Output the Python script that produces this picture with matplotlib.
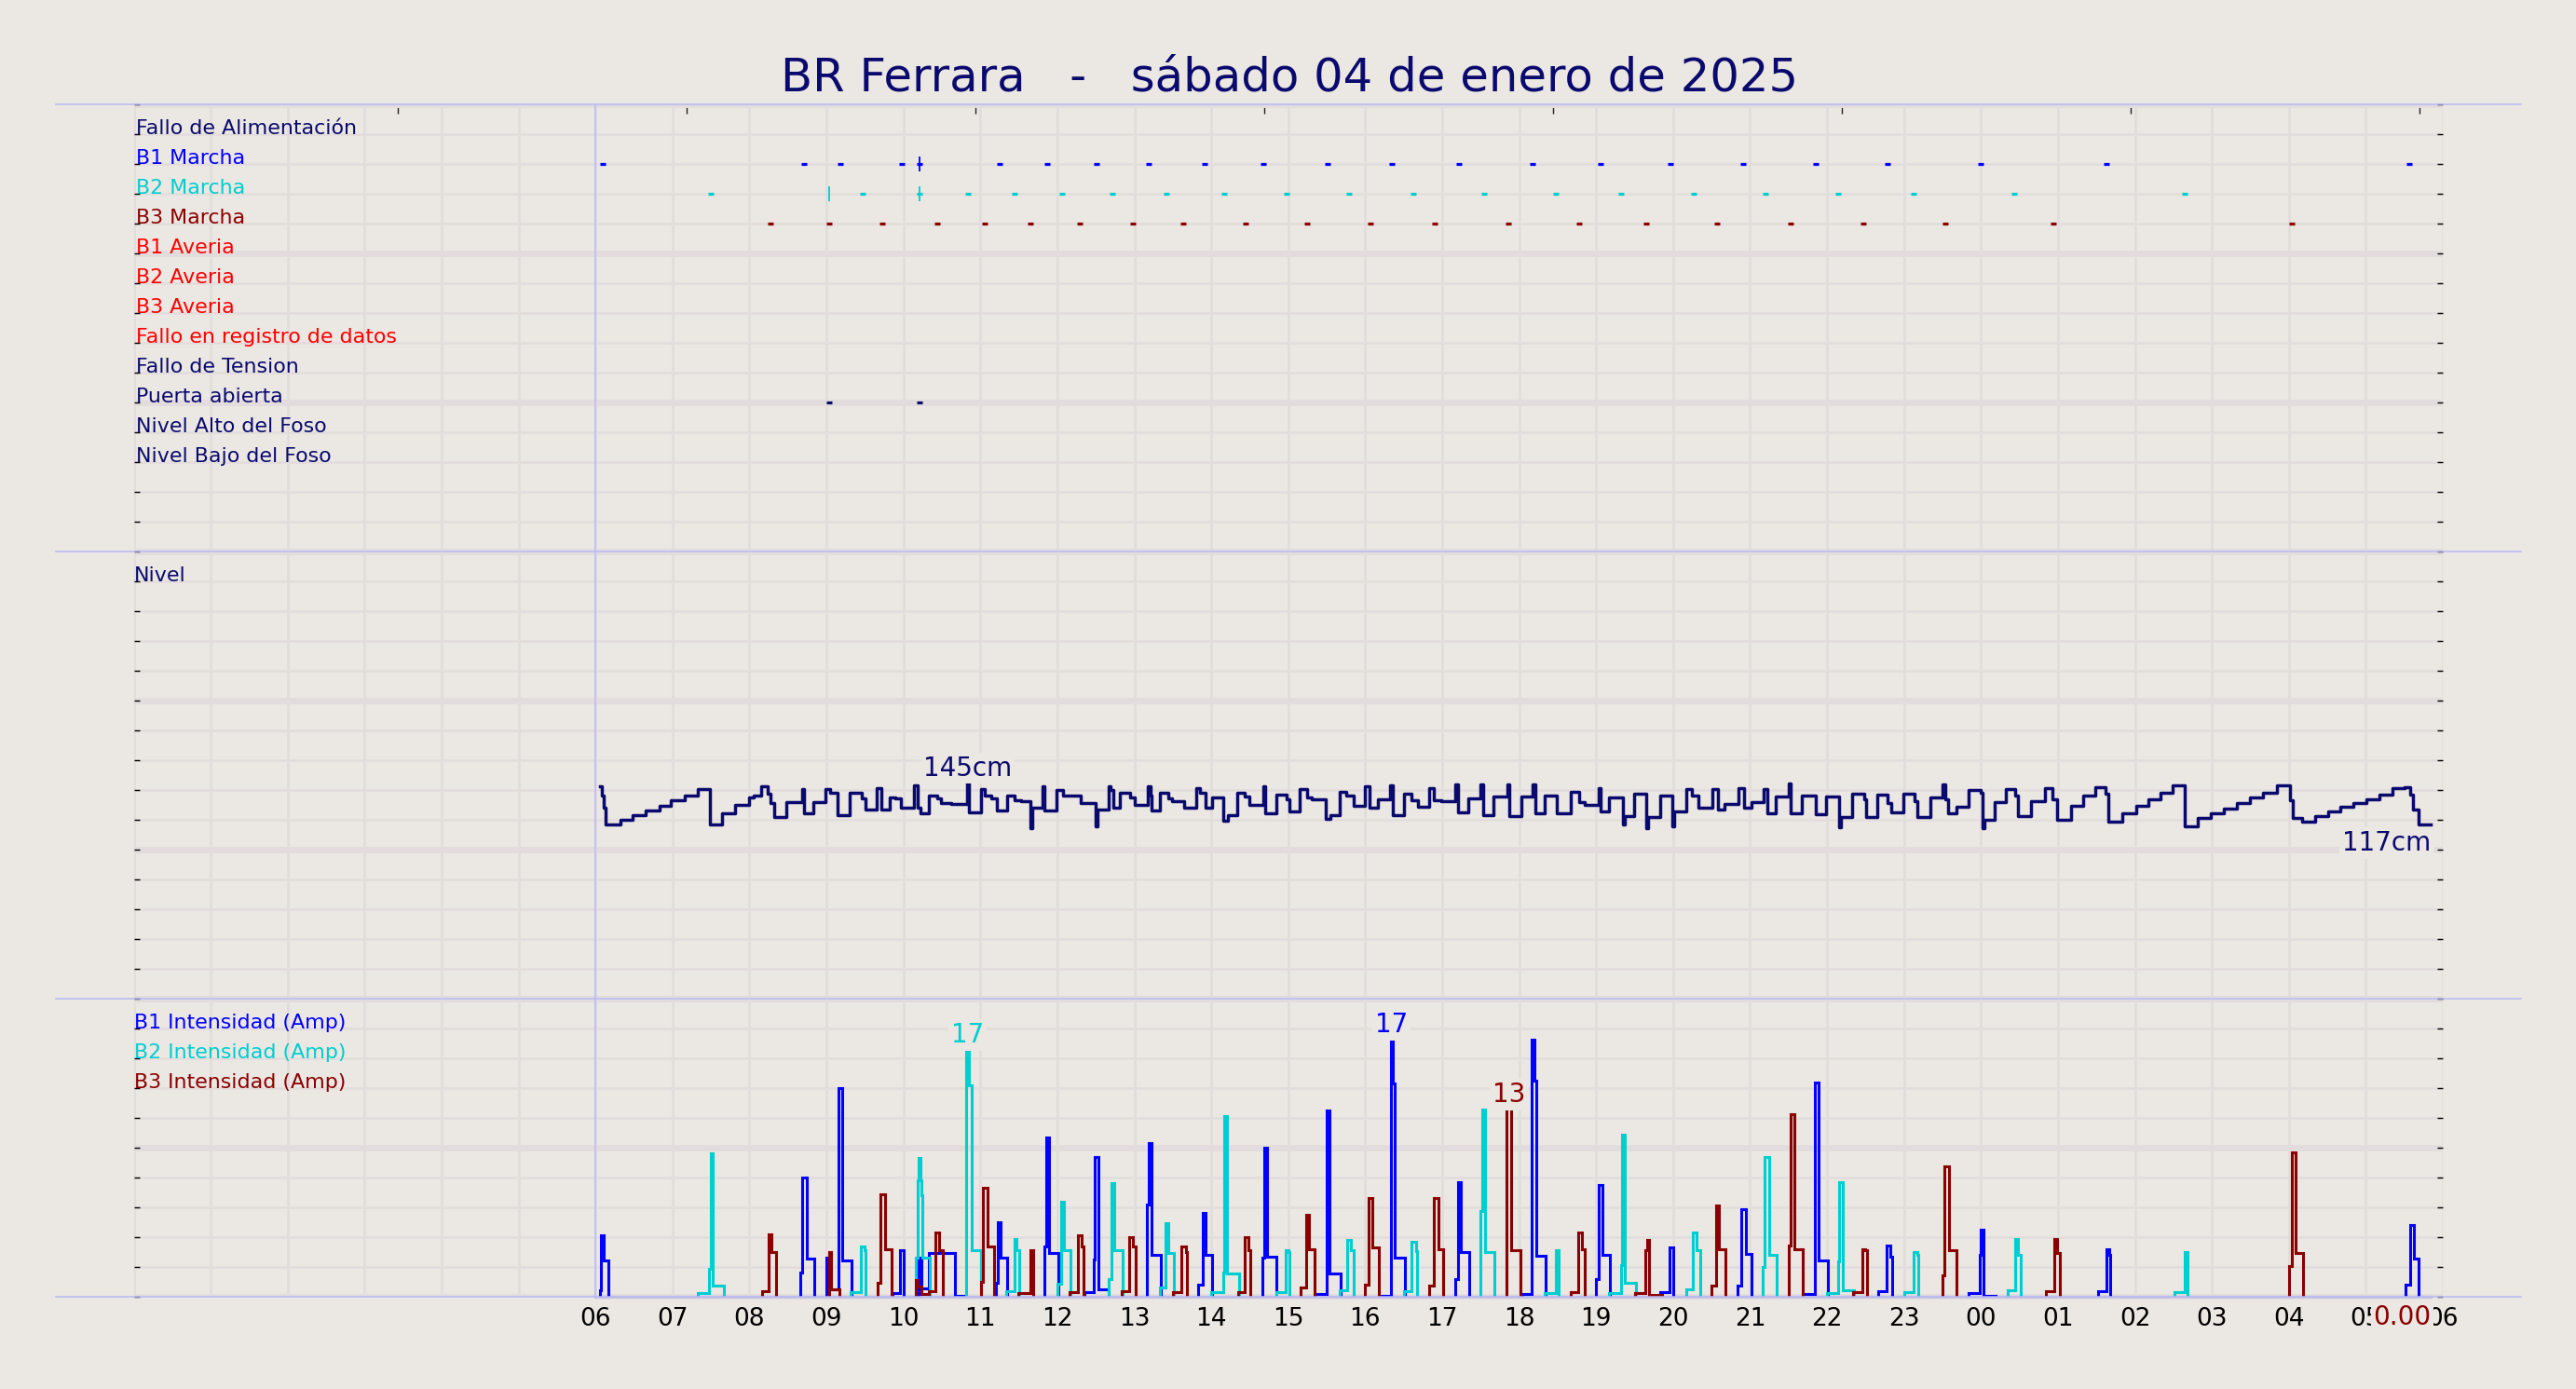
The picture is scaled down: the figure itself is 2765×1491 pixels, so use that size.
import numpy as np
import matplotlib
matplotlib.use("Agg")
import matplotlib.pyplot as plt
from matplotlib.lines import Line2D
import matplotlib.transforms as mtransforms

# ---------------------------------------------------------------- data
TITLE = "BR Ferrara   -   sábado 04 de enero de 2025"

ROW_LABELS = ["Fallo de Alimentación", "B1 Marcha", "B2 Marcha", "B3 Marcha",
              "B1 Averia", "B2 Averia", "B3 Averia", "Fallo en registro de datos",
              "Fallo de Tension", "Puerta abierta", "Nivel Alto del Foso",
              "Nivel Bajo del Foso"]
ROW_VALUES = [14, 13, 12, 11, 10, 9, 8, 7, 6, 5, 4, 3]
ROW_COLORS = ["#0a0a6e", "#0000ff", "#00ced1", "#8b0000", "#ff0000", "#ff0000",
              "#ff0000", "#ff0000", "#0a0a6e", "#0a0a6e", "#0a0a6e", "#0a0a6e"]

HOUR_TICKS = list(range(6, 31))
HOUR_LABELS = ["06", "07", "08", "09", "10", "11", "12", "13", "14", "15", "16",
               "17", "18", "19", "20", "21", "22", "23", "00", "01", "02", "03",
               "04", "05", "06"]
TOP_TICKS = [3.432, 7.185, 10.938, 14.691, 18.444, 22.197, 25.95, 29.703]

DATA_START = 6.0
END_T = 29.848

# digital states (hours since 00:00 of the day)
B1_MARCHA = [6.09, 8.71, 9.18, 9.975, 10.21, 11.25, 11.87, 12.51, 13.19, 13.91,
             14.68, 15.51, 16.35, 17.22, 18.18, 19.06, 19.97, 20.91, 21.85,
             22.79, 24.0, 25.63, 29.57]
B2_MARCHA = [7.5, 9.47, 10.21, 10.84, 11.44, 12.06, 12.72, 13.42, 14.17, 14.98,
             15.79, 16.62, 17.54, 18.48, 19.33, 20.27, 21.2, 22.15, 23.13,
             24.43, 26.65]
B3_MARCHA = [8.27, 9.04, 9.73, 10.44, 11.06, 11.65, 12.29, 12.98, 13.64, 14.45,
             15.24, 16.07, 16.9, 17.86, 18.78, 19.65, 20.57, 21.53, 22.47,
             23.54, 24.94, 28.04]
PUERTA = [9.04, 10.21]
B1_BLIPS = [10.21]
B2_BLIPS = [9.04, 10.21]

# level (cm), step values
LEVEL_T = [6.057, 6.083, 6.103, 6.135, 6.326, 6.481, 6.652, 6.828, 6.983, 7.154,
           7.324, 7.49, 7.645, 7.811, 7.997, 8.059, 8.152, 8.24, 8.276, 8.318,
           8.473, 8.68, 8.711, 8.825, 8.99, 9.042, 9.145, 9.30, 9.456, 9.507,
           9.652, 9.714, 9.818, 9.895, 9.973, 10.138, 10.18, 10.221, 10.335,
           10.438, 10.49, 10.62, 10.826, 10.852, 11.007, 11.059, 11.137, 11.214,
           11.344, 11.447, 11.525, 11.654, 11.68, 11.809, 11.835, 11.99, 12.068,
           12.301, 12.497, 12.523, 12.663, 12.689, 12.725, 12.818, 12.948, 13.0,
           13.181, 13.206, 13.222, 13.336, 13.439, 13.491, 13.646, 13.801,
           13.853, 13.931, 14.016, 14.155, 14.222, 14.341, 14.429, 14.497,
           14.673, 14.698, 14.843, 14.973, 15.014, 15.154, 15.242, 15.309,
           15.49, 15.552, 15.671, 15.759, 15.852, 15.997, 16.059, 16.162,
           16.318, 16.359, 16.499, 16.602, 16.68, 16.825, 16.897, 16.99, 17.171,
           17.207, 17.342, 17.497, 17.533, 17.663, 17.844, 17.87, 18.025, 18.18,
           18.206, 18.335, 18.49, 18.671, 18.775, 18.853, 19.034, 19.06, 19.163,
           19.344, 19.37, 19.499, 19.654, 19.68, 19.835, 19.99, 20.017, 20.172,
           20.249, 20.327, 20.508, 20.586, 20.663, 20.844, 20.922, 21.015,
           21.181, 21.222, 21.336, 21.501, 21.527, 21.672, 21.853, 21.984,
           22.157, 22.184, 22.331, 22.488, 22.509, 22.656, 22.787, 22.84,
           22.997, 23.139, 23.171, 23.339, 23.496, 23.538, 23.575, 23.68,
           23.837, 23.995, 24.021, 24.047, 24.178, 24.325, 24.441, 24.483,
           24.651, 24.835, 24.924, 24.992, 25.176, 25.333, 25.491, 25.622,
           25.659, 25.832, 26.016, 26.173, 26.331, 26.488, 26.646, 26.814,
           26.987, 27.16, 27.328, 27.496, 27.669, 27.843, 28.01, 28.052, 28.168,
           28.336, 28.509, 28.667, 28.84, 29.008, 29.176, 29.349, 29.507,
           29.575, 29.612, 29.68]
LEVEL_CM = [142.4, 136.3, 128.2, 117, 120, 123, 126.5, 129.6, 132.9, 136.3,
            140.4, 117, 124.5, 130.2, 134.7, 136.3, 142.4, 137.3, 131.2, 121.6,
            132, 140.4, 124.5, 132, 140.4, 138.4, 123.3, 138, 134.3, 127.1,
            141.4, 127.1, 135.3, 134.3, 128.2, 142.9, 128.2, 124.5, 136.3,
            134.3, 131.2, 130.6, 145, 125.1, 140.4, 136.3, 134.3, 126.1,
            136.3, 133.3, 132.3, 114.3, 128.2, 142.4, 126.5, 140, 136.3,
            131.2, 115.5, 127.1, 142.4, 140, 128.2, 138, 134.7, 130.2,
            142.4, 136, 126.1, 138.4, 134.3, 132.5, 128.2, 141.4,
            138.4, 128.2, 134.7, 119.6, 123.1, 138, 135.9, 129.8,
            142.4, 124.1, 136.7, 134, 125.7, 140.4, 134.7, 133.9,
            120.4, 123, 138.8, 136.3, 129.2, 142.4, 128.2, 133.9,
            142.9, 123.1, 137.3, 133, 128.6, 141.4, 133, 132.2, 143.7,
            125.1, 134.3, 144, 123.1, 135.9, 144, 122.4, 135.9, 144,
            124.5, 136.3, 124.5, 138.8, 131.8, 129.8, 141.4, 125.7, 135.3,
            116.9, 122.4, 137.8, 114.3, 121.6, 136.3, 115.9, 125.7, 140.4,
            136.3, 128.2, 140.8, 127.1, 130.6, 141.4, 128.2, 131.8,
            140.4, 124.1, 135.9, 144.5, 124.1, 136.3, 123.7, 135.9,
            114.9, 122, 137.3, 133.5, 122, 136.7, 131.2, 125.1,
            137.3, 132.7, 121.6, 135.3, 143.5, 133.5, 124.1, 128.6,
            140, 138.2, 114.3, 120, 131.8, 140.4, 136.3, 122.4,
            132.7, 141.4, 133.5, 120, 129.2, 136.3, 142, 137.3,
            119, 124.5, 129.2, 133.9, 138.4, 143.3, 115.9, 121,
            124.5, 127.8, 131.4, 135.3, 138.4, 142.9, 133, 121, 119,
            122.4, 125.7, 128.6, 131.2, 133.9, 136.7, 141.4, 142,
            136.7, 127.1, 117]

# pump currents (A); every run ends with a 0
B1_T = [6.059, 6.07, 6.105, 6.165,
        8.666, 8.683, 8.743, 8.844,
        8.998, 9.02, 9.151, 9.211, 9.332,
        9.853, 9.954, 10.006,
        10.196, 10.24, 10.33, 10.67, 10.81,
        11.197, 11.225, 11.265, 11.346,
        11.834, 11.854, 11.895, 12.016,
        12.347, 12.476, 12.49, 12.528, 12.661,
        13.162, 13.186, 13.226, 13.347,
        13.832, 13.888, 13.92, 14.009,
        14.667, 14.687, 14.727, 14.84,
        15.353, 15.494, 15.502, 15.535, 15.684,
        16.18, 16.334, 16.354, 16.382, 16.515,
        17.173, 17.201, 17.242, 17.35,
        18.036, 18.158, 18.199, 18.219, 18.348,
        18.998, 19.038, 19.087, 19.179,
        19.833, 19.954, 20.007,
        20.842, 20.89, 20.943, 21.024,
        21.689, 21.839, 21.891, 22.012,
        22.67, 22.779, 22.819, 22.852,
        23.84, 23.99, 24.002, 24.03, 24.192,
        25.519, 25.626, 25.662, 25.678,
        29.512, 29.579, 29.625, 29.682]
B1_A = [0.44, 4.1, 2.46, 0,
        1.6, 8.0, 2.56, 0,
        2.6, 0.5, 14.0, 2.42, 0,
        0.23, 3.1, 0,
        2.6, 0.58, 2.94, 0.06, 0,
        0.92, 5.0, 2.6, 0,
        3.35, 10.7, 2.94, 0,
        0.33, 2.5, 9.35, 0.5, 0,
        6.2, 10.3, 2.83, 0,
        0.8, 5.6, 2.83, 0,
        2.6, 10.0, 2.7, 0,
        0.2, 1.27, 12.5, 1.54, 0,
        0.08, 17.3, 14.3, 2.6, 0,
        1.2, 7.7, 3.0, 0,
        0.17, 17.25, 14.5, 2.77, 0,
        1.17, 7.5, 2.83, 0,
        0.33, 3.3, 0,
        0.75, 5.85, 2.88, 0,
        0.2, 14.4, 2.46, 0,
        0.4, 3.46, 2.67, 0,
        0.27, 2.8, 4.5, 0.08, 0,
        0.37, 3.2, 2.8, 0,
        0.8, 4.8, 2.56, 0]

B2_T = [7.323, 7.472, 7.496, 7.525, 7.666,
        9.32, 9.449, 9.49, 9.51,
        10.16, 10.18, 10.2, 10.22, 10.24, 10.245, 10.34,
        10.813, 10.846, 10.886, 11.003,
        11.338, 11.439, 11.467, 11.508,
        12.0, 12.044, 12.084, 12.173,
        12.661, 12.702, 12.742, 12.851,
        13.327, 13.404, 13.444, 13.517,
        14.001, 14.154, 14.163, 14.203, 14.356,
        14.84, 14.962, 15.002, 15.018,
        15.664, 15.769, 15.817, 15.849,
        16.503, 16.604, 16.656, 16.672,
        17.5, 17.52, 17.56, 17.68,
        18.328, 18.473, 18.513,
        19.167, 19.32, 19.337, 19.369, 19.518,
        20.176, 20.257, 20.309, 20.358,
        21.165, 21.193, 21.246, 21.346,
        22.004, 22.145, 22.162, 22.202, 22.355,
        23.009, 23.13, 23.174, 23.187,
        24.343, 24.441, 24.482, 24.518,
        26.509, 26.653, 26.689]
B2_A = [0.27, 1.9, 9.6, 0.75, 0,
        0.33, 3.4, 3.1, 0,
        2.6, 7.8, 9.3, 7.8, 6.8, 2.6, 0,
        16.6, 14.2, 3.15, 0,
        0.4, 3.9, 3.1, 0,
        0.9, 6.4, 3.15, 0,
        1.17, 7.6, 3.15, 0,
        0.65, 4.96, 2.94, 0,
        0.33, 1.6, 12.1, 1.54, 0,
        0.33, 3.15, 3.0, 0,
        0.44, 3.8, 3.15, 0,
        0.37, 3.67, 3.08, 0,
        5.75, 12.56, 3.0, 0,
        0.27, 3.15, 0,
        0.23, 2.1, 10.9, 0.96, 0,
        0.5, 4.3, 3.15, 0,
        2.0, 9.35, 2.83, 0,
        0.27, 2.4, 7.7, 0.44, 0,
        0.33, 3.0, 2.83, 0,
        0.44, 3.9, 2.83, 0,
        0.33, 3.0, 0]

B3_T = [8.17, 8.251, 8.291, 8.344,
        9.03, 9.058, 9.171,
        9.667, 9.704, 9.756, 9.845,
        10.167, 10.19, 10.23, 10.33, 10.41, 10.46, 10.51,
        11.003, 11.035, 11.088, 11.176,
        11.491, 11.653, 11.681,
        12.153, 12.266, 12.318, 12.339,
        12.831, 12.932, 12.984, 13.012,
        13.497, 13.61, 13.666, 13.678,
        14.344, 14.437, 14.477, 14.506,
        15.159, 15.232, 15.272, 15.345,
        16.0, 16.039, 16.092, 16.18,
        16.834, 16.887, 16.947, 17.016,
        17.835, 17.895, 18.016,
        18.675, 18.764, 18.812, 18.852,
        19.51, 19.643, 19.664, 19.692, 19.853,
        20.499, 20.56, 20.6, 20.68,
        21.508, 21.528, 21.576, 21.689,
        22.343, 22.456, 22.496, 22.525,
        23.505, 23.525, 23.586, 23.687,
        24.846, 24.954, 24.985, 25.021,
        28.008, 28.039, 28.085, 28.183]
B3_A = [0.4, 4.2, 3.0, 0,
        3.0, 0.5, 0,
        0.96, 6.85, 3.2, 0,
        1.1, 0.7, 0.19, 0.4, 4.3, 3.15, 0,
        1.0, 7.3, 3.35, 0,
        0.23, 3.1, 0,
        0.33, 4.1, 3.35, 0,
        0.37, 4.0, 3.35, 0,
        0.33, 3.4, 3.0, 0,
        0.33, 4.0, 3.15, 0,
        0.65, 5.5, 3.2, 0,
        0.8, 6.6, 3.3, 0,
        0.75, 6.65, 3.2, 0,
        12.6, 3.1, 0,
        0.33, 4.3, 3.2, 0,
        0.23, 3.15, 3.8, 0.12, 0,
        0.75, 6.1, 3.2, 0,
        3.46, 12.25, 3.2, 0,
        0.33, 3.2, 3.1, 0,
        1.42, 8.77, 3.1, 0,
        0.37, 3.9, 2.94, 0,
        2.04, 9.67, 2.94, 0]

CURRENT_LABELS = ["B1 Intensidad (Amp)", "B2 Intensidad (Amp)", "B3 Intensidad (Amp)"]
CURRENT_LABEL_Y = [18, 16, 14]

# ---------------------------------------------------------------- style
BG = "#ebe7e2"
GRID = "#e2dddc"
SEP = "#b9b9f5"
NAVY = "#0a0a6e"
C_B1, C_B2, C_B3 = "#0000ff", "#00ced1", "#8b0000"
LABEL_FS = 15.9

W_PX, H_PX = 2765, 1491
fig = plt.figure(figsize=(W_PX / 100, H_PX / 100), dpi=100, facecolor=BG)


def fy(py):
    return 1 - py / H_PX


LEFT = 143.5 / W_PX
WIDTH = (2622 - 143.5) / W_PX
ax1 = fig.add_axes([LEFT, fy(592), WIDTH, 480 / H_PX])
ax2 = fig.add_axes([LEFT, fy(1072), WIDTH, 480 / H_PX])
ax3 = fig.add_axes([LEFT, fy(1392), WIDTH, 320 / H_PX])


def style(ax, ymax, major, minor):
    ax.set_facecolor(BG)
    ax.set_xlim(0, 30)
    ax.set_ylim(0, ymax)
    ax.set_xticks(range(0, 31))
    ax.set_yticks(np.arange(0, ymax + 0.01, major))
    ax.set_yticks(np.arange(0, ymax + 0.01, minor), minor=True)
    ax.grid(which="major", axis="y", color=GRID, lw=5)
    ax.grid(which="minor", axis="y", color=GRID, lw=1.8)
    ax.grid(which="major", axis="x", color=GRID, lw=2.0)
    for s in ax.spines.values():
        s.set_visible(False)
    ax.tick_params(axis="y", which="both", direction="in", left=True, right=True,
                   length=4, width=1, color="black", labelleft=False)
    ax.tick_params(axis="x", length=0, labelbottom=False)
    ax.set_axisbelow(True)
    ax.axvline(DATA_START, color=SEP, lw=1.1, zorder=1.5)


style(ax1, 15, 5, 1)
style(ax2, 300, 100, 20)
style(ax3, 20, 10, 2)

# top ticks
sec = ax1.secondary_xaxis("top")
sec.set_xticks(TOP_TICKS, labels=[])
sec.tick_params(direction="in", length=7, width=1, color="#222222")
for s in sec.spines.values():
    s.set_visible(False)

# bottom hour labels
ax3.set_xticks(list(range(0, 6)) + HOUR_TICKS, labels=[""] * 6 + HOUR_LABELS)
ax3.tick_params(axis="x", labelbottom=True, labelsize=19, pad=8, labelcolor="black")

# ---------------------------------------------------------------- panel 1
tr1 = mtransforms.blended_transform_factory(ax1.transAxes, ax1.transData)
for lab, yv, c in zip(ROW_LABELS, ROW_VALUES, ROW_COLORS):
    ax1.text(0.001, yv, lab, transform=tr1, ha="left", va="baseline",
             fontsize=LABEL_FS, color=c)

for times, row, c in [(B1_MARCHA, 13, C_B1), (B2_MARCHA, 12, C_B2),
                      (B3_MARCHA, 11, C_B3), (PUERTA, 5, NAVY)]:
    ax1.plot(times, [row] * len(times), ls="none", marker="_", ms=4, mew=2.3,
             color=c, zorder=3)
for times, row, c in [(B1_BLIPS, 13, C_B1), (B2_BLIPS, 12, C_B2)]:
    ax1.plot(times, [row] * len(times), ls="none", marker="|", ms=11.5, mew=1.3,
             color=c, zorder=3)

# ---------------------------------------------------------------- panel 2
tr2 = mtransforms.blended_transform_factory(ax2.transAxes, ax2.transData)
ax2.text(0.0, 280, "Nivel", transform=tr2, ha="left", va="baseline",
         fontsize=LABEL_FS, color=NAVY)
ax2.plot(LEVEL_T + [END_T], LEVEL_CM + [LEVEL_CM[-1]], drawstyle="steps-post",
         color=NAVY, lw=2.5, zorder=3)

LBL_BOX = dict(boxstyle="square,pad=0.1", fc=BG, ec="none")


def peak_label(ax, T, V, color, fmt):
    i = int(np.argmax(V))
    x = (T[i] + T[i + 1]) / 2
    ax.annotate(fmt % V[i], (x, V[i]), xytext=(0, 1), textcoords="offset points",
                ha="center", va="bottom", fontsize=20, color=color, bbox=LBL_BOX,
                zorder=4)


def last_label(ax, v, color, fmt, dy):
    ax.annotate(fmt % v, (END_T, v), xytext=(0, dy), textcoords="offset points",
                ha="right", va="top", fontsize=20, color=color, bbox=LBL_BOX,
                zorder=4, annotation_clip=False)


peak_label(ax2, LEVEL_T, LEVEL_CM, NAVY, "%.0fcm")
last_label(ax2, LEVEL_CM[-1], NAVY, "%.0fcm", -4.5)

# ---------------------------------------------------------------- panel 3
tr3 = mtransforms.blended_transform_factory(ax3.transAxes, ax3.transData)
for lab, yv, c in zip(CURRENT_LABELS, CURRENT_LABEL_Y, [C_B1, C_B2, C_B3]):
    ax3.text(0.0, yv, lab, transform=tr3, ha="left", va="baseline",
             fontsize=LABEL_FS, color=c)


def runs_polyline(T, A):
    xs, ys = [], []
    start, prev = True, 0.0
    for t, a in zip(T, A):
        if start:
            xs += [t, t]
            ys += [0.0, a]
            start = False
        else:
            xs += [t, t]
            ys += [prev, a]
        prev = a
        if a == 0:
            xs.append(np.nan)
            ys.append(np.nan)
            start = True
    return xs, ys


ax3.plot([DATA_START, END_T], [0, 0], color="#c9c5de", lw=2.5, zorder=2,
         clip_on=False)
for T, A, c in [(B1_T, B1_A, C_B1), (B2_T, B2_A, C_B2), (B3_T, B3_A, C_B3)]:
    xs, ys = runs_polyline(T, A)
    ax3.plot(xs, ys, color=c, lw=2.2, zorder=3, solid_joinstyle="miter")

peak_label(ax3, B1_T, B1_A, C_B1, "%.0f")
peak_label(ax3, B2_T, B2_A, C_B2, "%.0f")
peak_label(ax3, B3_T, B3_A, C_B3, "%.0f")
for A, c in [(B1_A, C_B1), (B2_A, C_B2), (B3_A, C_B3)]:
    last_label(ax3, A[-1], c, "%.2f", -6)

# ---------------------------------------------------------------- frame lines
for py in (112, 592, 1072, 1392):
    fig.add_artist(Line2D([60 / W_PX, 2706 / W_PX], [fy(py), fy(py)],
                          color=SEP, lw=1.1, zorder=10))

fig.text(1384 / W_PX, fy(97), TITLE, ha="center", va="baseline", fontsize=35.8,
         color=NAVY)

fig.savefig("out.png", dpi=100, facecolor=BG)
